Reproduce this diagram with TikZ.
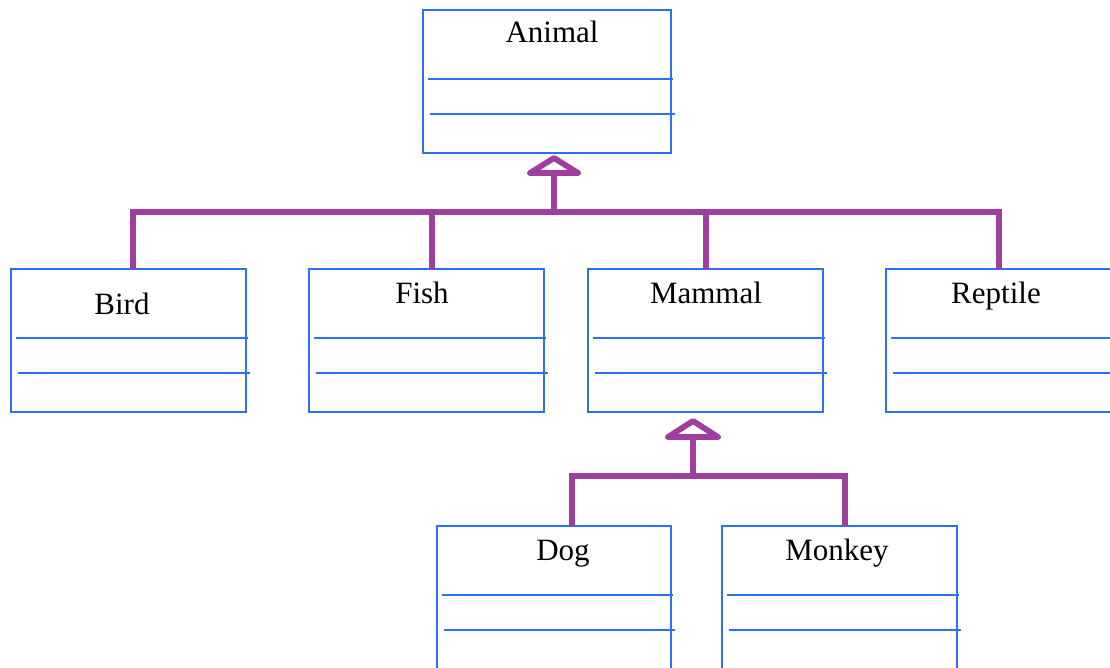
\documentclass[tikz,border=0pt]{standalone}
\usepackage{fontspec}
\setmainfont{Liberation Serif}
\usetikzlibrary{calc}
\definecolor{boxblue}{RGB}{45,110,250}
\definecolor{umlpurple}{RGB}{160,62,160}
\tikzset{
  cls/.style={draw=boxblue, line width=1.8pt, minimum width=235pt, minimum height=143pt, inner sep=0pt, outer sep=0pt},
  sepline/.style={draw=boxblue, line width=1.8pt},
  ttl/.style={font=\fontsize{31}{37}\selectfont, inner sep=0pt, anchor=base},
  gen/.style={draw=umlpurple, line width=5.8pt, line join=miter},
  tri/.style={draw=umlpurple, line width=5.8pt, line join=round, fill=white}
}
\begin{document}
\begin{tikzpicture}[x=1pt,y=-1pt]
\useasboundingbox (0,0) rectangle (1110,668);
\fill[white] (0,0) rectangle (1110,668);
\clip (0,0) rectangle (1110,668);
% class boxes
\node[cls, minimum width=248pt] (animal) at (547,81.5) {};
\node[cls] (bird) at (128.5,340.5) {};
\node[cls] (fish) at (426.5,340.5) {};
\node[cls] (mammal) at (705.5,340.5) {};
\node[cls] (reptile) at (1003.5,340.5) {};
\node[cls, minimum width=234pt] (dog) at (554,597.5) {};
\node[cls] (monkey) at (839.5,597.5) {};
% compartments
\foreach \b in {animal,bird,fish,mammal,reptile,dog,monkey}{
  \draw[sepline] ($(\b.north west)+(5,69)$) -- ($(\b.north east)+(2,69)$);
  \draw[sepline] ($(\b.north west)+(7,104)$) -- ($(\b.north east)+(4,104)$);
}
% titles
\node[ttl] (animalT) at (552,43) {Animal};
\node[ttl] (birdT) at (122,314) {Bird};
\node[ttl] (fishT) at (422,303) {Fish};
\node[ttl] (mammalT) at (706,303) {Mammal};
\node[ttl] (reptileT) at (996,303) {Reptile};
\node[ttl] (dogT) at (563,560) {Dog};
\node[ttl] (monkeyT) at (837,560) {Monkey};
% generalization 1
\coordinate (tipA) at (554,158);
\coordinate (baseA) at (554,173);
\coordinate (busA) at (554,212);
\coordinate (birdTop) at (133,269);
\coordinate (fishTop) at (432,269);
\coordinate (mammalTop) at (706,269);
\coordinate (reptileTop) at (999,269);
\draw[gen] (birdTop) |- (busA) -| (reptileTop);
\draw[gen] (fishTop) -- (fishTop |- busA);
\draw[gen] (mammalTop) -- (mammalTop |- busA);
\draw[gen] (busA) -- (baseA);
\draw[tri] (tipA) -- ($(baseA)+(-24,0)$) -- ($(baseA)+(24,0)$) -- cycle;
% generalization 2
\coordinate (tipM) at (693,421);
\coordinate (baseM) at (693,437);
\coordinate (busM) at (693,476);
\coordinate (dogTop) at (572,526);
\coordinate (monkeyTop) at (845,526);
\draw[gen] (dogTop) |- (busM) -| (monkeyTop);
\draw[gen] (busM) -- (baseM);
\draw[tri] (tipM) -- ($(baseM)+(-25,0)$) -- ($(baseM)+(25,0)$) -- cycle;
\end{tikzpicture}
\end{document}
